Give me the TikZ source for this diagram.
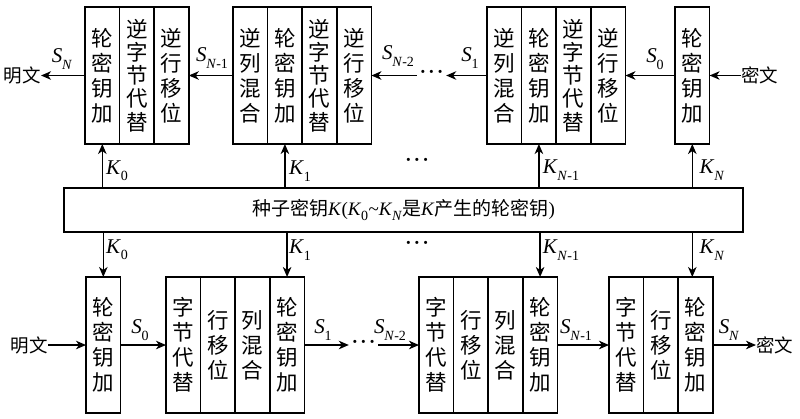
\documentclass[tikz,border=0pt]{standalone}
\usepackage{fontspec}
\setmainfont{Liberation Serif}
\newfontfamily\cjk{Noto Sans CJK SC}
\usetikzlibrary{arrows.meta}
\newcommand{\vv}[2]{\textit{#1}\kern-0.3pt\raisebox{-0.3em}{\fontsize{14}{14}\selectfont #2}}
\newcommand{\Nm}{\textit{N}-1}
\newcommand{\Nmm}{\textit{N}-2}
\newcommand{\threedots}{\textperiodcentered\textperiodcentered\textperiodcentered}
\begin{document}
\begin{tikzpicture}[x=1pt,y=-1pt,
  col/.style={draw, line width=1.5pt, minimum width=34.6pt, inner sep=0pt, outer sep=0pt,
    font=\cjk\fontsize{21.5}{25}\selectfont, align=center, anchor=west},
  topcol/.style={col, minimum height=137pt},
  botcol/.style={col, minimum height=136pt},
  five/.style={font=\cjk\fontsize{21.5}{23.2}\selectfont},
  arr/.style={line width=1.5pt, -{Stealth[length=10pt,width=8.5pt,inset=3pt]}},
  lab/.style={inner sep=0pt, font=\fontsize{21}{21}\selectfont},
  txt/.style={inner sep=0pt, font=\cjk\fontsize{18.5}{18.5}\selectfont},
  dots/.style={inner sep=0pt, inner xsep=1.5pt, font=\fontsize{26}{26}\selectfont}]
\useasboundingbox (0,0) rectangle (800,418);
% ---------- top row (decryption) ----------
\node[topcol] (t1a) at (85,75.5) {轮\\密\\钥\\加};
\node[topcol,five] (t1b) at (t1a.east) {逆\\字\\节\\代\\替};
\node[topcol] (t1c) at (t1b.east) {逆\\行\\移\\位};
\node[topcol] (t2a) at (233,75.5) {逆\\列\\混\\合};
\node[topcol] (t2b) at (t2a.east) {轮\\密\\钥\\加};
\node[topcol,five] (t2c) at (t2b.east) {逆\\字\\节\\代\\替};
\node[topcol] (t2d) at (t2c.east) {逆\\行\\移\\位};
\node[topcol] (t3a) at (487,75.5) {逆\\列\\混\\合};
\node[topcol] (t3b) at (t3a.east) {轮\\密\\钥\\加};
\node[topcol,five] (t3c) at (t3b.east) {逆\\字\\节\\代\\替};
\node[topcol] (t3d) at (t3c.east) {逆\\行\\移\\位};
\node[topcol] (t4) at (675,75.5) {轮\\密\\钥\\加};
\node[txt,anchor=east] (mw1) at (41,75.5) {明文};
\node[txt,anchor=west] (mw2) at (741,75.5) {密文};
\node[dots] (dt) at (431.5,75.5) {\threedots};
\draw[arr] (t1a.west) -- (t1a.west -| mw1.east);
\draw[arr] (t2a.west) -- (t1c.east);
\draw[arr] (t3a.west) -- (dt.east);
\draw[arr] (dt.west) -- (t2d.east);
\draw[arr] (t4.west) -- (t3d.east);
\draw[arr] (mw2.west) -- (t4.east);
\node[lab] (ls1) at (62,59) {\vv{S}{\textit{N}}};
\node[lab] (ls2) at (212,58) {\vv{S}{\Nm}};
\node[lab] (ls3) at (398,56) {\vv{S}{\Nmm}};
\node[lab] (ls4) at (470,58) {\vv{S}{1}};
\node[lab] (ls5) at (655,59) {\vv{S}{0}};
% ---------- key box ----------
\node[draw, line width=1.5pt, minimum width=679pt, minimum height=44pt, inner sep=0pt,
  font=\fontsize{19}{19}\selectfont] (key) at (403.5,210)
  {{\cjk 种子密钥}\textit{K}(\vv{K}{0}\kern0.5pt\textasciitilde\vv{K}{\textit{N}}{\cjk 是}\textit{K}{\cjk 产生的轮密钥})};
\draw[arr] (key.north -| t1a) -- (t1a.south);
\draw[arr] (key.north -| t2b) -- (t2b.south);
\draw[arr] (key.north -| t3b) -- (t3b.south);
\draw[arr] (key.north -| t4) -- (t4.south);
\node[lab] (lk1) at (117,171) {\vv{K}{0}};
\node[lab] (lk2) at (300,171) {\vv{K}{1}};
\node[lab] (lk3) at (561,170) {\vv{K}{\Nm}};
\node[lab] (lk4) at (712,170) {\vv{K}{\textit{N}}};
\node[dots] (dk1) at (417,163) {\threedots};
\node[dots] (dk2) at (417,246) {\threedots};
% ---------- bottom row (encryption) ----------
\node[botcol] (b1) at (86,345) {轮\\密\\钥\\加};
\node[botcol] (b2a) at (166,345) {字\\节\\代\\替};
\node[botcol] (b2b) at (b2a.east) {行\\移\\位};
\node[botcol] (b2c) at (b2b.east) {列\\混\\合};
\node[botcol] (b2d) at (b2c.east) {轮\\密\\钥\\加};
\node[botcol] (b3a) at (419,345) {字\\节\\代\\替};
\node[botcol] (b3b) at (b3a.east) {行\\移\\位};
\node[botcol] (b3c) at (b3b.east) {列\\混\\合};
\node[botcol] (b3d) at (b3c.east) {轮\\密\\钥\\加};
\node[botcol] (b4a) at (609,345) {字\\节\\代\\替};
\node[botcol] (b4b) at (b4a.east) {行\\移\\位};
\node[botcol] (b4c) at (b4b.east) {轮\\密\\钥\\加};
\node[txt,anchor=east] (mw3) at (48,345) {明文};
\node[txt,anchor=west] (mw4) at (756,345) {密文};
\node[dots] (db) at (363.5,345) {\threedots};
\draw[arr] (mw3.east) -- (b1.west);
\draw[arr] (b1.east) -- (b2a.west);
\draw[arr] (b2d.east) -- (db.west);
\draw[arr] (db.east) -- (b3a.west);
\draw[arr] (b3d.east) -- (b4a.west);
\draw[arr] (b4c.east) -- (mw4.west);
\draw[arr] (key.south -| b1) -- (b1.north);
\draw[arr] (key.south -| b2d) -- (b2d.north);
\draw[arr] (key.south -| b3d) -- (b3d.north);
\draw[arr] (key.south -| t4) -- (t4 |- b4c.north);
\node[lab] (lk5) at (117,250) {\vv{K}{0}};
\node[lab] (lk6) at (300,250) {\vv{K}{1}};
\node[lab] (lk7) at (561,250) {\vv{K}{\Nm}};
\node[lab] (lk8) at (712,250) {\vv{K}{\textit{N}}};
\node[lab] (ls6) at (140,330) {\vv{S}{0}};
\node[lab] (ls7) at (323,330) {\vv{S}{1}};
\node[lab] (ls8) at (390,330) {\vv{S}{\Nmm}};
\node[lab] (ls9) at (576,330) {\vv{S}{\Nm}};
\node[lab] (ls10) at (729,330) {\vv{S}{\textit{N}}};
\end{tikzpicture}
\end{document}
